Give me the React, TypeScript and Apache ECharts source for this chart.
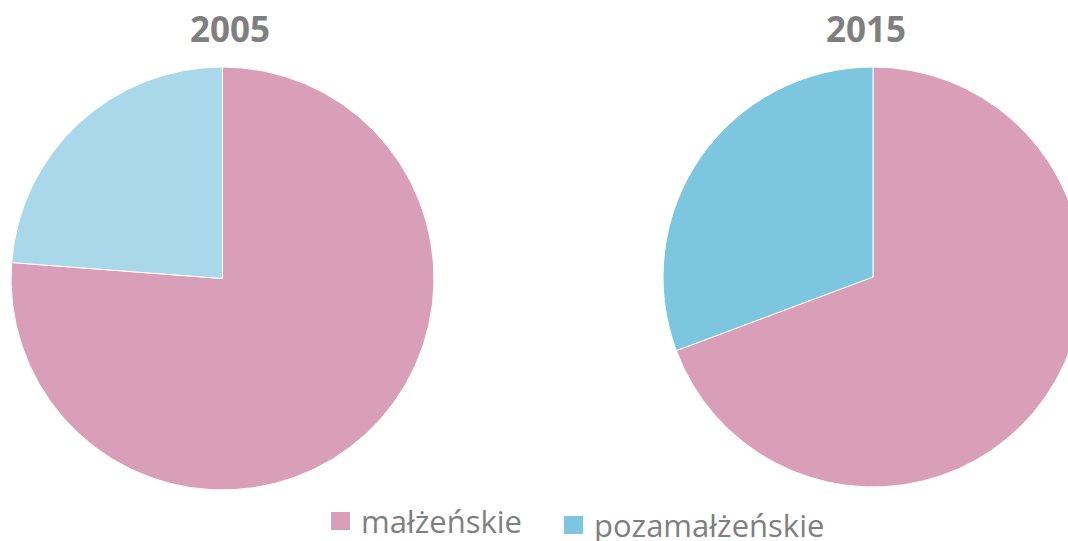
import React, { useEffect, useRef } from "react";
import * as echarts from "echarts";

const categories = ["małżeńskie", "pozamałżeńskie"];
const years = ["2005", "2015"];
const values2005 = [76.2, 23.8];
const values2015 = [69.3, 30.7];
const colors2005 = ["#DA9FB8", "#A9D8EA"];
const colors2015 = ["#DA9FB8", "#7DC6E0"];

const FONT = "'Open Sans', 'Noto Sans', sans-serif";
const GREY = "#7F7F7F";

export default function App() {
  const ref = useRef<HTMLDivElement>(null);
  useEffect(() => {
    document.body.style.margin = "0";
    if (!ref.current) return;
    const chart = echarts.init(ref.current, null, { renderer: "svg" });
    const mk = (vals: number[], cols: string[]) =>
      categories.map((c, i) => ({ name: c, value: vals[i], itemStyle: { color: cols[i] } }));
    const legendText = { fontFamily: FONT, fontSize: 31, color: GREY, lineHeight: 32, padding: [0, 0, 0, 5] };
    chart.setOption({
      animation: false,
      backgroundColor: "#ffffff",
      title: [
        {
          text: years[0],
          left: 225,
          top: 6,
          textAlign: "center",
          textStyle: { fontFamily: FONT, fontSize: 35, fontWeight: "bold", color: GREY },
        },
        {
          text: years[1],
          left: 861,
          top: 6,
          textAlign: "center",
          textStyle: { fontFamily: FONT, fontSize: 35, fontWeight: "bold", color: GREY },
        },
      ],
      legend: [
        {
          data: [{ name: categories[0], itemStyle: { color: colors2005[0] } }],
          left: 329,
          top: 505,
          padding: 0,
          itemWidth: 21,
          itemHeight: 20,
          itemGap: 0,
          icon: "rect",
          selectedMode: false,
          textStyle: legendText,
        },
        {
          data: [{ name: categories[1], itemStyle: { color: colors2015[1] } }],
          left: 562,
          top: 509,
          padding: 0,
          itemWidth: 21,
          itemHeight: 20,
          itemGap: 0,
          icon: "rect",
          selectedMode: false,
          textStyle: legendText,
        },
      ],
      series: [
        {
          type: "pie",
          center: [222.5, 278.5],
          radius: 211.5,
          startAngle: 90,
          clockwise: true,
          label: { show: false },
          labelLine: { show: false },
          emphasis: { disabled: true },
          itemStyle: { borderColor: "#ffffff", borderWidth: 1 },
          data: mk(values2005, colors2005),
        },
        {
          type: "pie",
          center: [873, 277],
          radius: 210,
          startAngle: 90,
          clockwise: true,
          label: { show: false },
          labelLine: { show: false },
          emphasis: { disabled: true },
          itemStyle: { borderColor: "#ffffff", borderWidth: 1 },
          data: mk(values2015, colors2015),
        },
      ],
    });
    return () => chart.dispose();
  }, []);
  return <div ref={ref} style={{ width: 1068, height: 541, position: "absolute", left: 0, top: 0 }} />;
}
